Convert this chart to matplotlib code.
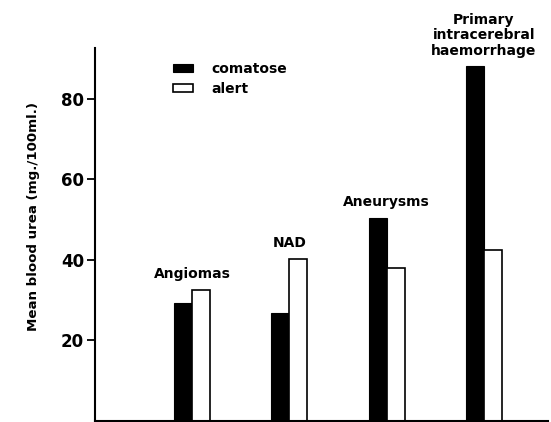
import matplotlib
matplotlib.use("Agg")
import matplotlib.pyplot as plt
import numpy as np

# values (mg./100ml.)
groups = ['Angiomas', 'NAD', 'Aneurysms', 'Primary\nintracerebral\nhaemorrhage']
comatose = [29.3, 26.8, 50.4, 88.0]
alert = [32.5, 40.2, 37.8, 42.3]
yticks = [20, 40, 60, 80]

plt.rcParams['font.family'] = ['DejaVu Sans']
plt.rcParams['font.weight'] = 'bold'

fig = plt.figure(figsize=(5.51, 4.22), dpi=100)
ax = fig.add_axes([95 / 551, 1.5 / 422, (548 - 95) / 551, (421 - 48) / 422])

x = np.arange(len(groups))
w = 0.185
ax.bar(x - w / 2, comatose, w, color='black', edgecolor='black', linewidth=0.8, label='comatose')
ax.bar(x + w / 2, alert, w, color='white', edgecolor='black', linewidth=1.2, label='alert')

for xi, name, c, a in zip(x, groups, comatose, alert):
    ax.annotate(name, (xi, max(c, a)), xytext=(0, 6), textcoords='offset points',
                ha='center', va='bottom', fontsize=10, fontweight='bold',
                linespacing=1.15)

ax.set_xlim(-1.0, 3.66)
ax.set_ylim(0, 92.7)
ax.set_xticks([])
ax.set_yticks(yticks)
ax.set_yticklabels([str(t) for t in yticks], fontsize=12, fontweight='bold')
ax.tick_params(axis='y', direction='out', length=6, width=1.3, pad=2)
ax.set_ylabel('Mean blood urea (mg./100ml.)', fontsize=9.6, fontweight='bold')
ax.yaxis.set_label_coords(-0.122, 0.547)

for s in ['top', 'right']:
    ax.spines[s].set_visible(False)
for s in ['left', 'bottom']:
    ax.spines[s].set_linewidth(1.5)

ax.legend(loc='upper left', bbox_to_anchor=(173 / 551, 1 - 62 / 422),
          bbox_transform=fig.transFigure, frameon=False, fontsize=10,
          handlelength=1.45, handleheight=0.5, handletextpad=1.3,
          labelspacing=0.45, borderpad=0, borderaxespad=0)

fig.savefig('out.png', dpi=100)
